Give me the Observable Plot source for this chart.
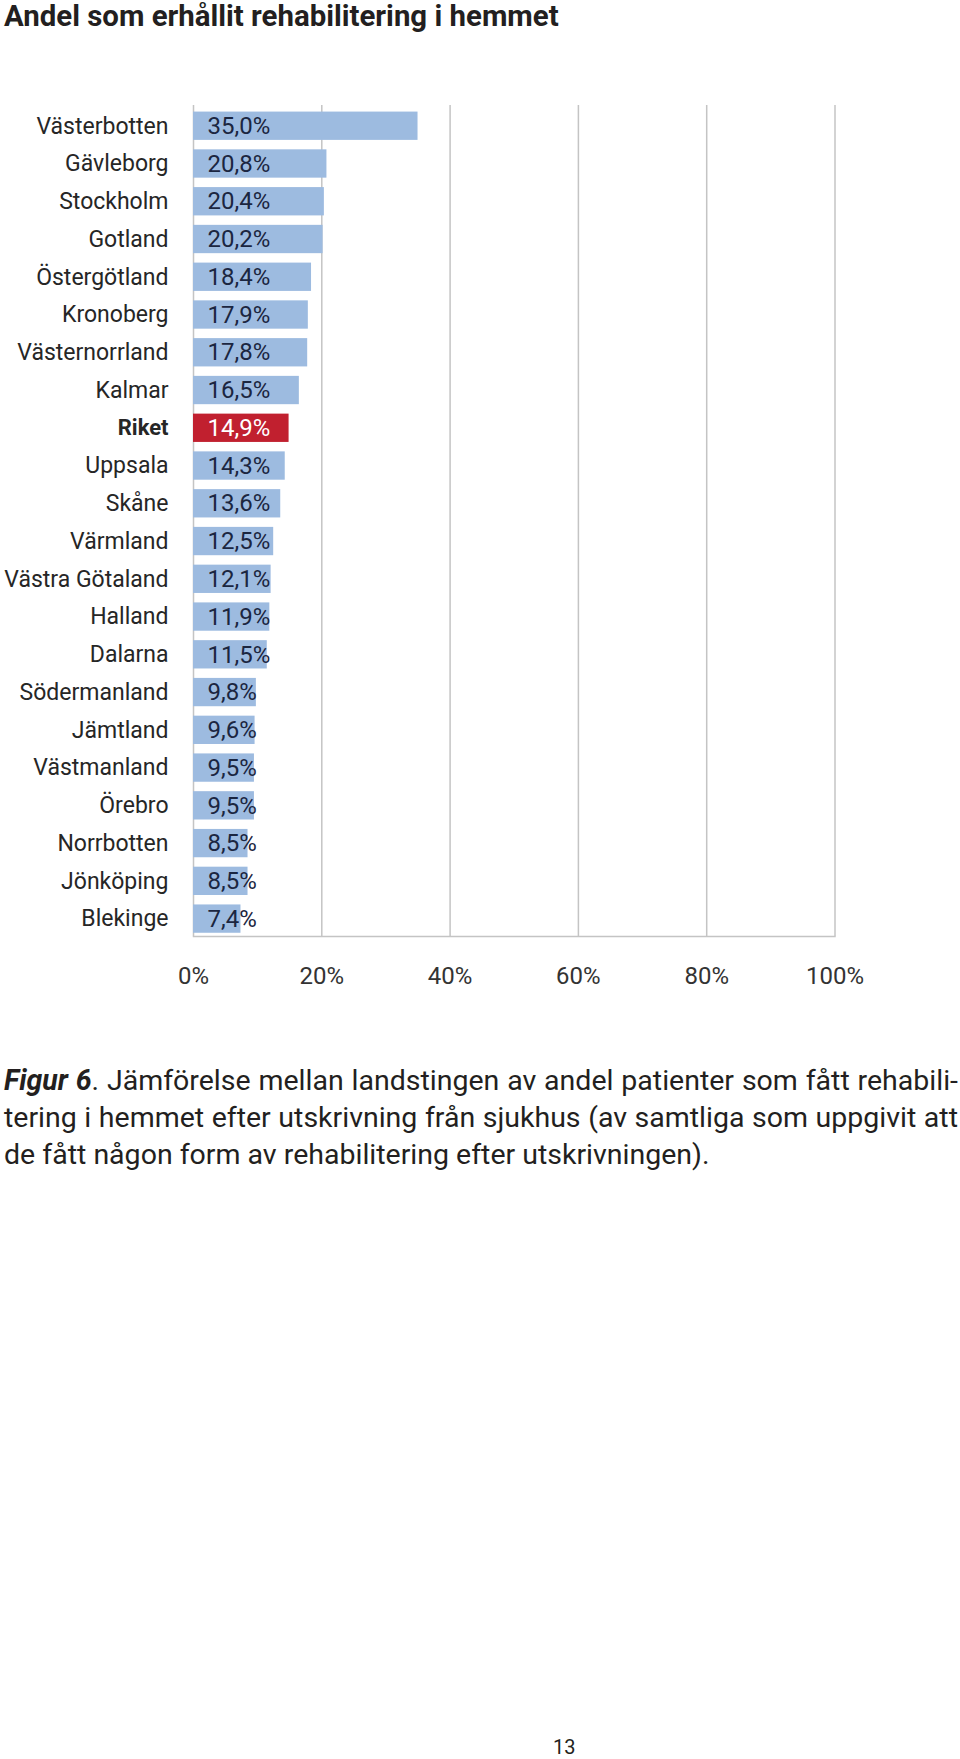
<!DOCTYPE html>
<html>
<head>
<meta charset="utf-8">
<script src="https://cdn.jsdelivr.net/npm/d3@7"></script>
<script src="https://cdn.jsdelivr.net/npm/@observablehq/plot@0.6"></script>
<style>
  html, body { margin: 0; padding: 0; background: #fff; }
  body { width: 960px; height: 1759px; position: relative; overflow: hidden;
         font-family: "Roboto", "Liberation Sans", sans-serif; color: #231f20; }
  #title { position: absolute; left: 4px; top: -1px; font-size: 29.4px; font-weight: bold; line-height: 34px; }
  #chart { position: absolute; left: 0; top: 60px; }
  #caption { position: absolute; left: 4px; right: 2px; top: 1062px; font-size: 28.5px; line-height: 37px; }
  #caption div { text-align: justify; text-align-last: justify; white-space: nowrap; }
  #caption div.last { text-align-last: left; }
  #page { position: absolute; left: 553px; top: 1735px; font-size: 20px; }
</style>
</head>
<body>
<div id="title">Andel som erhållit rehabilitering i hemmet</div>
<div id="chart"></div>
<div id="caption">
  <div><b><i>Figur 6</i></b>. Jämförelse mellan landstingen av andel patienter som fått rehabili-</div>
  <div>tering i hemmet efter utskrivning från sjukhus (av samtliga som uppgivit att</div>
  <div class="last">de fått någon form av rehabilitering efter utskrivningen).</div>
</div>
<div id="page">13</div>
<script>
const regions = ["Västerbotten","Gävleborg","Stockholm","Gotland","Östergötland","Kronoberg","Västernorrland","Kalmar","Riket","Uppsala","Skåne","Värmland","Västra Götaland","Halland","Dalarna","Södermanland","Jämtland","Västmanland","Örebro","Norrbotten","Jönköping","Blekinge"];
const values = [35.0,20.8,20.4,20.2,18.4,17.9,17.8,16.5,14.9,14.3,13.6,12.5,12.1,11.9,11.5,9.8,9.6,9.5,9.5,8.5,8.5,7.4];
const highlight = "Riket";
const xTicks = [0,20,40,60,80,100];

const data = regions.map((r, i) => ({region: r, value: values[i], hl: r === highlight}));
const fmt = v => v.toFixed(1).replace(".", ",") + "%";
const font = '"Roboto", "Liberation Sans", sans-serif';

const chart = Plot.plot({
  width: 960,
  height: 960,
  marginTop: 45,
  marginBottom: 84,
  marginLeft: 193,
  marginRight: 125.5,
  style: {fontFamily: font, background: "transparent"},
  x: {domain: [0, 100], ticks: xTicks, label: null},
  y: {domain: regions, paddingInner: 0.25, paddingOuter: 0.13, align: 0.67, round: false, label: null},
  marks: [
    Plot.ruleX(xTicks, {stroke: "#c4c4c4", strokeWidth: 1.5}),
    Plot.frame({anchor: "bottom", stroke: "#c4c4c4", strokeWidth: 1.5}),
    Plot.barX(data, {y: "region", x: "value", fill: d => d.hl ? "#c1202f" : "#9dbbe0"}),
    Plot.text(data, {y: "region", x: 0, text: d => fmt(d.value), dx: 14, textAnchor: "start",
      fill: d => d.hl ? "#ffffff" : "#1b2640", fontSize: 24}),
    Plot.text(data.filter(d => !d.hl), {y: "region", x: 0, text: "region", dx: -25, textAnchor: "end",
      fill: "#262626", fontSize: 23}),
    Plot.text(data.filter(d => d.hl), {y: "region", x: 0, text: "region", dx: -25, textAnchor: "end",
      fill: "#262626", fontSize: 22, fontWeight: "bold"}),
    Plot.axisX({ticks: xTicks, tickSize: 0, tickPadding: 30, tickFormat: d => d + "%",
      fontSize: 24, color: "#333", label: null}),
    Plot.axisY({ticks: [], label: null})
  ]
});
document.getElementById("chart").appendChild(chart);
</script>
</body>
</html>
